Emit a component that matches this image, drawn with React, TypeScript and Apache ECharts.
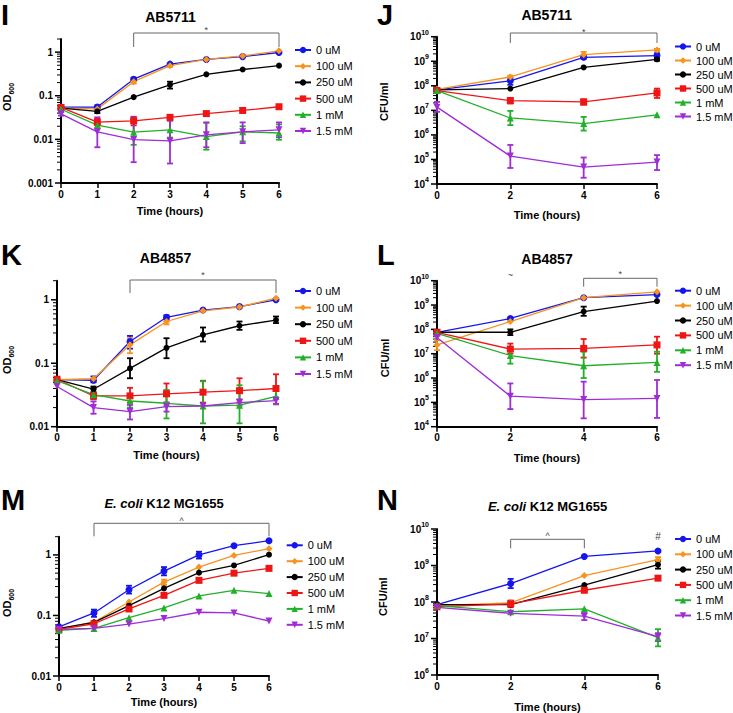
import React, { useEffect, useRef } from 'react';
import * as echarts from 'echarts';

const FONT = '"Liberation Sans", Arial, Helvetica, sans-serif';

// ---------- data ----------
const concentrations = ['0 uM', '100 uM', '250 uM', '500 uM', '1 mM', '1.5 mM'];
const hoursOD = [0, 1, 2, 3, 4, 5, 6];
const hoursCFU = [0, 2, 4, 6];

// I: AB5711 OD600
const odAB5711 = [
  [0.055, 0.055, 0.24, 0.53, 0.68, 0.79, 0.98],
  [0.052, 0.05, 0.21, 0.49, 0.68, 0.82, 1.07],
  [0.052, 0.044, 0.093, 0.178, 0.31, 0.4, 0.49],
  [0.054, 0.0248, 0.0266, 0.032, 0.039, 0.046, 0.056],
  [0.049, 0.0212, 0.0146, 0.0166, 0.0116, 0.0149, 0.014],
  [0.0385, 0.0149, 0.0099, 0.0092, 0.0127, 0.0149, 0.0166],
];
const odAB5711Err = [
  [null, [0.05, 0.06], [0.22, 0.26], null, null, null, null],
  [null, null, [0.19, 0.23], [0.46, 0.52], null, null, null],
  [null, [0.04, 0.05], null, [0.146, 0.21], null, null, null],
  [null, [0.021, 0.03], [0.021, 0.033], null, null, null, null],
  [null, [0.018, 0.026], [0.0075, 0.028], [0.011, 0.027], [0.0058, 0.024], [0.009, 0.02], [0.0098, 0.022]],
  [[0.035, 0.042], [0.0066, 0.032], [0.003, 0.032], [0.0028, 0.027], [0.0066, 0.0245], [0.0082, 0.0245], [0.0112, 0.0245]],
];

// J: AB5711 CFU/ml
const cfuAB5711 = [
  [6.8e7, 1.6e8, 1.45e9, 1.7e9],
  [7.2e7, 2.3e8, 1.86e9, 2.9e9],
  [6.8e7, 7.7e7, 5.6e8, 1.2e9],
  [6.4e7, 2.5e7, 2.2e7, 5.1e7],
  [6.4e7, 4.9e6, 2.9e6, 6.6e6],
  [1.35e7, 1.37e5, 4.9e4, 7.8e4],
];
const cfuAB5711Err = [
  [null, [1.1e8, 2.1e8], [1.25e9, 1.65e9], [1.3e9, 2.1e9]],
  [null, [2.0e8, 2.6e8], [1.45e9, 2.4e9], [2.6e9, 3.2e9]],
  [null, null, null, [1.05e9, 1.35e9]],
  [null, [1.9e7, 3.2e7], [1.7e7, 2.8e7], [3.2e7, 7.7e7]],
  [null, [2.5e6, 9.5e6], [1.5e6, 5.4e6], null],
  [[8.7e6, 2.2e7], [4.5e4, 3.9e5], [1.8e4, 1.2e5], [3.7e4, 1.5e5]],
];

// K: AB4857 OD600
const odAB4857 = [
  [0.055, 0.054, 0.22, 0.53, 0.69, 0.78, 1.0],
  [0.055, 0.057, 0.195, 0.455, 0.67, 0.77, 1.06],
  [0.055, 0.039, 0.083, 0.175, 0.28, 0.39, 0.48],
  [0.056, 0.0305, 0.0306, 0.033, 0.035, 0.037, 0.04],
  [0.053, 0.032, 0.0254, 0.0234, 0.0212, 0.0218, 0.03],
  [0.043, 0.02, 0.0173, 0.0207, 0.0212, 0.024, 0.0258],
];
const odAB4857Err = [
  [null, [0.05, 0.062], [0.17, 0.27], [0.49, 0.57], null, null, null],
  [null, null, [0.144, 0.25], [0.41, 0.5], null, null, null],
  [null, [0.035, 0.043], [0.058, 0.12], [0.12, 0.248], [0.22, 0.366], [0.336, 0.455], [0.43, 0.545]],
  [null, [0.027, 0.034], [0.024, 0.041], [0.024, 0.048], [0.024, 0.053], [0.024, 0.058], [0.0225, 0.067]],
  [null, [0.028, 0.04], [0.02, 0.032], [0.0135, 0.038], [0.0113, 0.052], [0.0113, 0.045], [0.0227, 0.043]],
  [null, [0.016, 0.025], [0.013, 0.022], [0.0173, 0.024], null, [0.0215, 0.027], [0.023, 0.029]],
];

// L: AB4857 CFU/ml
const cfuAB4857 = [
  [7.6e7, 2.8e8, 2.0e9, 2.7e9],
  [2.3e7, 2.1e8, 2.0e9, 3.5e9],
  [7.6e7, 7.6e7, 5.4e8, 1.46e9],
  [7.6e7, 1.55e7, 1.65e7, 2.3e7],
  [6.9e7, 8.4e6, 3.2e6, 4.4e6],
  [4.6e7, 1.8e5, 1.3e5, 1.45e5],
];
const cfuAB4857Err = [
  [null, null, null, null],
  [[1.4e7, 3.6e7], null, null, null],
  [null, [5.8e7, 1.0e8], [3.6e8, 8.6e8], null],
  [null, [1.0e7, 2.6e7], [6.9e6, 4.0e7], [1.0e7, 5.0e7]],
  [null, [3.9e6, 1.3e7], [1.0e6, 1.2e7], [1.8e6, 1.2e7]],
  [null, [5.3e4, 6.0e5], [2.2e4, 7.1e5], [2.3e4, 8.3e5]],
];

// M: E. coli K12 MG1655 OD600
const odMG1655 = [
  [0.065, 0.11, 0.266, 0.54, 1.0, 1.42, 1.72],
  [0.059, 0.078, 0.167, 0.355, 0.63, 0.98, 1.27],
  [0.061, 0.077, 0.145, 0.28, 0.51, 0.67, 1.01],
  [0.059, 0.073, 0.128, 0.215, 0.38, 0.5, 0.6],
  [0.057, 0.061, 0.092, 0.133, 0.21, 0.26, 0.23],
  [0.059, 0.061, 0.072, 0.089, 0.113, 0.11, 0.081],
];
const odMG1655Err = [
  [null, [0.095, 0.125], [0.23, 0.31], [0.46, 0.63], [0.87, 1.13], null, null],
  [null, null, null, [0.32, 0.39], null, null, null],
  [null, null, null, null, null, null, null],
  [null, null, null, null, null, null, null],
  [null, null, null, null, null, null, null],
  [null, null, null, null, null, null, null],
];

// N: E. coli K12 MG1655 CFU/ml
const cfuMG1655 = [
  [8.5e7, 3.2e8, 1.77e9, 2.5e9],
  [8.0e7, 9.5e7, 5.3e8, 1.44e9],
  [8.5e7, 8.5e7, 2.9e8, 1.05e9],
  [7.4e7, 8.9e7, 2.1e8, 4.5e8],
  [8.0e7, 5.4e7, 6.5e7, 1.05e7],
  [7.1e7, 4.9e7, 4.1e7, 1.12e7],
];
const cfuMG1655Err = [
  [null, [2.4e8, 4.3e8], null, null],
  [null, null, null, [1.2e9, 1.7e9]],
  [null, null, null, [0.82e9, 1.35e9]],
  [null, [7.2e7, 1.1e8], null, null],
  [null, null, null, [6.1e6, 1.8e7]],
  [null, null, [3.2e7, 5.0e7], [8.5e6, 1.4e7]],
];

// significance annotations
const marksAB5711OD = [{ from: 2, to: 6, mark: '*' }];
const marksAB5711CFU = [{ from: 2, to: 6, mark: '*' }];
const marksAB4857OD = [{ from: 2, to: 6, mark: '*' }];
const marksAB4857CFU = [{ from: 2, to: 2, mark: '~' }, { from: 4, to: 6, mark: '*' }];
const marksMG1655OD = [{ from: 1, to: 6, mark: '^' }];
const marksMG1655CFU = [{ from: 2, to: 4, mark: '^' }, { from: 6, to: 6, mark: '#' }];

// ---------- styles ----------
const seriesColors = ['#1515EE', '#F7931E', '#000000', '#EE1515', '#22B02A', '#9E2DD6'];
const seriesSymbols = ['circle', 'diamond', 'circle', 'rect', 'triangle', 'triangle'];
const seriesRotate = [0, 0, 0, 0, 0, 180];
const seriesSymbolSize = [7, 7, 6, 7, 7, 7];

const panels = [
  { letter: 'I', title: 'AB5711', hours: hoursOD, values: odAB5711, errors: odAB5711Err, kind: 'od', yMin: 0.001, yMax: 2, xStep: 1, marks: marksAB5711OD },
  { letter: 'J', title: 'AB5711', hours: hoursCFU, values: cfuAB5711, errors: cfuAB5711Err, kind: 'cfu', yMin: 1e4, yMax: 1e10, xStep: 2, marks: marksAB5711CFU },
  { letter: 'K', title: 'AB4857', hours: hoursOD, values: odAB4857, errors: odAB4857Err, kind: 'od', yMin: 0.01, yMax: 2, xStep: 1, marks: marksAB4857OD },
  { letter: 'L', title: 'AB4857', hours: hoursCFU, values: cfuAB4857, errors: cfuAB4857Err, kind: 'cfu', yMin: 1e4, yMax: 1e10, xStep: 2, marks: marksAB4857CFU },
  { letter: 'M', title: '{i|E. coli} K12 MG1655', hours: hoursOD, values: odMG1655, errors: odMG1655Err, kind: 'od', yMin: 0.01, yMax: 2, xStep: 1, marks: marksMG1655OD },
  { letter: 'N', title: '{i|E. coli} K12 MG1655', hours: hoursCFU, values: cfuMG1655, errors: cfuMG1655Err, kind: 'cfu', yMin: 1e6, yMax: 1e10, xStep: 2, marks: marksMG1655CFU },
];

// layout: grid [left, top, width, height]; legend [left, firstRowCenter, rowStep];
// title [cx, cy, size]; letter [x, cy]; yName [cx, cy]; marks: [barOffset, drop, markOffset] relative to grid top
const layouts = [
  { grid: [61, 39, 218, 144], legend: [294, 50, 16.2], title: [170.5, 16.7, 14], letter: [1, 15], yName: [7, 97], xNameGap: 22, marks: [[-6, 14, -9]] },
  { grid: [437, 36.7, 220, 147.3], legend: [674, 46.5, 14], title: [546.7, 15, 14], letter: [377, 15], yName: [383.5, 101.7], xNameGap: 25, marks: [[-3.7, 10, -5]] },
  { grid: [57, 280.7, 219, 146], legend: [294, 291, 16.6], title: [165.5, 258, 14], letter: [1, 255], yName: [6.7, 360], xNameGap: 23, marks: [[-0.7, 13, -5.5]] },
  { grid: [437, 280.7, 220, 146], legend: [674, 290.7, 14.9], title: [547, 259, 14], letter: [377, 255], yName: [385, 358], xNameGap: 26, marks: [[0, 0, -6], [-2.4, 8.4, -7]] },
  { grid: [59, 536.7, 210, 139.3], legend: [285.7, 545.3, 15.9], title: [164, 503.5, 13], letter: [1, 499.5], yName: [6.7, 603], xNameGap: 20, marks: [[-13.4, 13, -16]] },
  { grid: [437, 529, 221, 147], legend: [674, 539, 15.3], title: [547.5, 506, 13], letter: [377, 500], yName: [383, 596.7], xNameGap: 26, marks: [[10.3, 9, 6.5], [0, 0, 7]] },
];

function isPow10(v: number) {
  const l = Math.log10(v);
  return Math.abs(l - Math.round(l)) < 1e-6;
}

function buildOption() {
  const grid: any[] = [];
  const xAxis: any[] = [];
  const yAxis: any[] = [];
  const series: any[] = [];
  const legend: any[] = [];
  const graphic: any[] = [];

  panels.forEach((p, i) => {
    const L = layouts[i];
    grid.push({ left: L.grid[0], top: L.grid[1], width: L.grid[2], height: L.grid[3], containLabel: false });
    xAxis.push({
      type: 'value', gridIndex: i, min: 0, max: 6, interval: p.xStep,
      name: 'Time (hours)', nameLocation: 'middle', nameGap: L.xNameGap,
      nameTextStyle: { fontFamily: FONT, fontWeight: 'bold', fontSize: 11, color: '#000' },
      axisLine: { show: true, onZero: false, lineStyle: { color: '#000', width: 2 } },
      axisTick: { show: true, length: 5, lineStyle: { color: '#000', width: 1.5 } },
      axisLabel: { fontFamily: FONT, fontWeight: 'bold', fontSize: 10, color: '#000', margin: 6 },
      splitLine: { show: false },
    });
    yAxis.push({
      type: 'log', logBase: 10, gridIndex: i, min: p.yMin, max: p.yMax,
      axisLine: { show: true, onZero: false, lineStyle: { color: '#000', width: 2 } },
      axisTick: { show: false },
      minorTick: { show: false },
      splitLine: { show: false },
      axisLabel: {
        margin: 8,
        fontFamily: FONT, fontWeight: 'bold', fontSize: 10, color: '#000',
        formatter: (v: number) => {
          if (!isPow10(v)) return '';
          const e = Math.round(Math.log10(v));
          if (p.kind === 'cfu') return '{b|10}{s|' + e + '}';
          return e >= 0 ? String(Math.pow(10, e)) : Math.pow(10, e).toFixed(-e);
        },
        rich: {
          b: { fontFamily: FONT, fontWeight: 'bold', fontSize: 10, color: '#000', lineHeight: 16 },
          s: { fontFamily: FONT, fontWeight: 'bold', fontSize: 7, color: '#000', lineHeight: 8, verticalAlign: 'top' },
        },
      },
    });

    // y ticks (major + log minor), drawn through the y scale
    const tickData: number[][] = [];
    const e0 = Math.round(Math.log10(p.yMin));
    for (let e = e0; Math.pow(10, e) <= p.yMax * 1.0001; e++) {
      for (let k = 1; k <= 9; k++) {
        const v = k * Math.pow(10, e);
        if (v <= p.yMax * 1.0001) tickData.push([0, v, k === 1 ? 1 : 0]);
      }
    }
    series.push({
      type: 'custom', xAxisIndex: i, yAxisIndex: i, silent: true, z: 1,
      data: tickData,
      renderItem: (params: any, api: any) => {
        const pt = api.coord([api.value(0), api.value(1)]);
        const major = api.value(2) === 1;
        const len = major ? 5 : 3;
        return {
          type: 'line',
          shape: { x1: pt[0] - 1, y1: pt[1], x2: pt[0] - 1 - len, y2: pt[1] },
          style: { stroke: '#000', lineWidth: major ? 1.5 : 1 },
        };
      },
    });

    concentrations.forEach((name, k) => {
      const color = seriesColors[k];
      const errData: number[][] = [];
      p.errors[k].forEach((e: any, j: number) => {
        if (e) errData.push([p.hours[j], e[0], e[1]]);
      });
      if (errData.length) {
        series.push({
          type: 'custom', xAxisIndex: i, yAxisIndex: i, silent: true, z: 3,
          data: errData,
          encode: { x: 0, y: [1, 2] },
          renderItem: (params: any, api: any) => {
            const x = api.value(0);
            const lo = api.coord([x, api.value(1)]);
            const hi = api.coord([x, api.value(2)]);
            const w = 3;
            const st = { stroke: color, lineWidth: 1.8 };
            return {
              type: 'group',
              children: [
                { type: 'line', shape: { x1: hi[0], y1: hi[1], x2: lo[0], y2: lo[1] }, style: st },
                { type: 'line', shape: { x1: hi[0] - w, y1: hi[1], x2: hi[0] + w, y2: hi[1] }, style: st },
                { type: 'line', shape: { x1: lo[0] - w, y1: lo[1], x2: lo[0] + w, y2: lo[1] }, style: st },
              ],
            };
          },
        });
      }
      series.push({
        type: 'line', name, xAxisIndex: i, yAxisIndex: i, z: 3,
        data: p.hours.map((h, j) => [h, p.values[k][j]]),
        symbol: seriesSymbols[k], symbolSize: seriesSymbolSize[k], symbolRotate: seriesRotate[k],
        showAllSymbol: true, clip: false,
        lineStyle: { color, width: 1.3 },
        itemStyle: { color },
      });
    });

    // significance brackets
    series.push({
      type: 'custom', xAxisIndex: i, yAxisIndex: i, silent: true, z: 4,
      data: p.marks.map((m, idx) => [m.from, m.to, idx]),
      renderItem: (params: any, api: any) => {
        const idx = api.value(2);
        const m = p.marks[idx];
        const cfg = L.marks[idx];
        const top = params.coordSys.y;
        const x1 = api.coord([m.from, p.yMax])[0];
        const x2 = api.coord([m.to, p.yMax])[0];
        const children: any[] = [];
        if (m.from !== m.to) {
          const by = top + cfg[0];
          children.push({
            type: 'polyline',
            shape: { points: [[x1, by + cfg[1]], [x1, by], [x2, by], [x2, by + cfg[1]]] },
            style: { stroke: '#666', lineWidth: 1, fill: null },
          });
        }
        children.push({
          type: 'text',
          style: {
            text: m.mark, x: (x1 + x2) / 2, y: top + cfg[2],
            align: 'center', verticalAlign: 'middle',
            fontFamily: FONT, fontSize: m.mark === '#' ? 10 : 9, fill: '#444',
          },
        });
        return { type: 'group', children };
      },
    });

    legend.push({
      orient: 'vertical', left: L.legend[0], top: L.legend[1] - 6,
      itemWidth: 16, itemHeight: 8, itemGap: L.legend[2] - 12,
      padding: 0, selectedMode: false, data: concentrations,
      textStyle: { fontFamily: FONT, fontSize: 11, color: '#000', lineHeight: 12 },
    });

    graphic.push({
      type: 'text', x: L.letter[0], y: L.letter[1], silent: true,
      style: { text: p.letter, fontFamily: FONT, fontWeight: 'bold', fontSize: 29, fill: '#000', align: 'left', verticalAlign: 'middle' },
    });
    graphic.push({
      type: 'text', x: L.title[0], y: L.title[1], silent: true,
      style: {
        text: p.title, fontFamily: FONT, fontWeight: 'bold', fontSize: L.title[2], fill: '#000',
        align: 'center', verticalAlign: 'middle',
        rich: { i: { fontFamily: FONT, fontWeight: 'bold', fontStyle: 'italic', fontSize: L.title[2], fill: '#000' } },
      },
    });
    graphic.push({
      type: 'text', x: L.yName[0], y: L.yName[1], rotation: Math.PI / 2, silent: true,
      style: p.kind === 'od'
        ? {
            text: '{a|OD}{s|600}', align: 'center', verticalAlign: 'middle',
            rich: {
              a: { fontFamily: FONT, fontWeight: 'bold', fontSize: 11, fill: '#000', lineHeight: 16 },
              s: { fontFamily: FONT, fontWeight: 'bold', fontSize: 7, fill: '#000', lineHeight: 8, verticalAlign: 'bottom' },
            },
          }
        : { text: 'CFU/ml', fontFamily: FONT, fontWeight: 'bold', fontSize: 11, fill: '#000', align: 'center', verticalAlign: 'middle' },
    });
  });

  return {
    animation: false,
    backgroundColor: '#ffffff',
    grid, xAxis, yAxis, series, legend, graphic,
  };
}

export default function App() {
  const ref = useRef<HTMLDivElement>(null);
  useEffect(() => {
    const chart = echarts.init(ref.current as HTMLDivElement, null, { renderer: 'svg', width: 733, height: 713 });
    chart.setOption(buildOption() as any);
    return () => chart.dispose();
  }, []);
  return <div ref={ref} style={{ position: 'absolute', left: 0, top: 0, width: 733, height: 713, background: '#fff' }} />;
}
